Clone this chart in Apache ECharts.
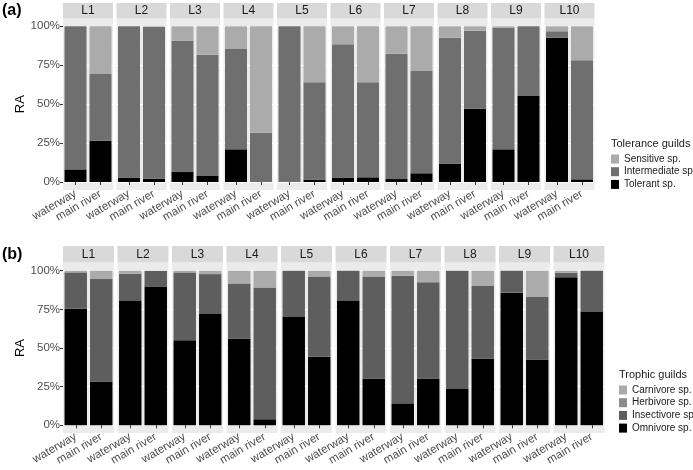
<!DOCTYPE html>
<html><head><meta charset="utf-8">
<script src="https://cdn.jsdelivr.net/npm/echarts@6/dist/echarts.min.js"></script>
<style>html,body{margin:0;padding:0;background:#fff}#c{width:693px;height:470px}</style>
</head><body><div id="c"></div>
<script>
// ---- data ----
const sites = ['L1','L2','L3','L4','L5','L6','L7','L8','L9','L10'];
const habitats = ['waterway','main river'];
const yTickStep = 25;
// Panel (a): tolerance guilds, [waterway, main river] per site (%)
const tolerant     = [[8.1,26.5],[2.8,2.1],[6.4,3.9],[21,0],[0.3,1.5],[2.8,3],[1.9,5.6],[11.8,47.1],[21,55.5],[92.7,1.7]];
const intermediate = [[91.9,42.9],[97.2,97.5],[84.2,77.9],[64.7,31.7],[99.7,62.5],[85.6,61],[80.5,65.7],[80.9,50.1],[78,44.5],[4.1,76.5]];
const sensitive    = [[0,30.6],[0,0.4],[9.4,18.2],[14.3,68.3],[0,36],[11.6,36],[17.6,28.7],[7.3,2.8],[1,0],[3.2,21.8]];
// Panel (b): trophic guilds, [waterway, main river] per site (%)
const omnivore    = [[75.4,28.4],[80.4,89.7],[55,72],[56.2,3.9],[70,44.4],[80.4,30.2],[14.2,30.2],[23.5,43.1],[85.8,42.5],[95.7,73.3]];
const insectivore = [[23.5,66.2],[17.6,10.1],[43.9,25.8],[35.6,85.3],[30,51.9],[19.6,66.1],[82.6,62.3],[76.5,47],[14.2,40.5],[3,26.7]];
const herbivore   = [[0,0],[0,0],[0,0],[0,0],[0,0],[0,0],[0,0],[0,0],[0,0],[0,0]];
const carnivore   = [[1.1,5.4],[2,0.2],[1.1,2.2],[8.2,10.8],[0,3.7],[0,3.7],[3.2,7.5],[0,9.9],[0,17],[1.3,0]];

// ---- layout / style ----
const panels = [
  { tag:'(a)', tagY:11, x0:63, period:53.5, w:50, stripTop:3, panelTop:18.5, panelBottom:190, y100:26.3, y0:182,
    legendTitle:'Tolerance guilds', legTitleX:611, legTitleY:145, legLeft:611, legTop:154,
    series:[['Tolerant sp.',tolerant,'#000000'],['Intermediate sp.',intermediate,'#6f6f6f'],['Sensitive sp.',sensitive,'#ababab']],
    legendOrder:['Sensitive sp.','Intermediate sp.','Tolerant sp.'] },
  { tag:'(b)', tagY:255, x0:63, period:54.5, w:51, stripTop:246, panelTop:262.5, panelBottom:433, y100:270.7, y0:425.3,
    legendTitle:'Trophic guilds', legTitleX:619, legTitleY:376, legLeft:619, legTop:385,
    series:[['Omnivore sp.',omnivore,'#000000'],['Insectivore sp.',insectivore,'#5e5e5e'],['Herbivore sp.',herbivore,'#8c8c8c'],['Carnivore sp.',carnivore,'#ababab']],
    legendOrder:['Carnivore sp.','Herbivore sp.','Insectivore sp.','Omnivore sp.'] }
];
const FONT = 'Liberation Sans, Arial, sans-serif';

const grids=[], xAxes=[], yAxes=[], series=[], graphics=[], legends=[];
panels.forEach((p, pi) => {
  graphics.push({type:'text', left:2, top:p.tagY-8, z:5, style:{text:p.tag, font:'bold 16px '+FONT, fill:'#000'}});
  graphics.push({type:'text', left:p.legTitleX, top:p.legTitleY-7, z:5, style:{text:p.legendTitle, font:'11px '+FONT, fill:'#1a1a1a'}});
  legends.push({orient:'vertical', left:p.legLeft, top:p.legTop, padding:0, itemWidth:8, itemHeight:9, itemGap:2.7,
    selectedMode:false, icon:'rect', data:p.legendOrder,
    textStyle:{fontSize:10, fontFamily:FONT, color:'#1a1a1a', lineHeight:10}});
  sites.forEach((site, i) => {
    const idx = grids.length;
    const left = p.x0 + i*p.period;
    graphics.push({type:'rect', z:-1, shape:{x:left, y:p.panelTop, width:p.w, height:p.panelBottom-p.panelTop}, style:{fill:'#ebebeb'}});
    graphics.push({type:'rect', z:-1, shape:{x:left, y:p.stripTop, width:p.w, height:p.panelTop-p.stripTop}, style:{fill:'#d9d9d9'}});
    graphics.push({type:'text', z:5, x:left+p.w/2, y:(p.stripTop+p.panelTop)/2, style:{text:site, font:'12px '+FONT, fill:'#1a1a1a', align:'center', verticalAlign:'middle'}});
    grids.push({left:left, width:p.w, top:p.y100, height:p.y0-p.y100, containLabel:false});
    xAxes.push({type:'category', gridIndex:idx, data:habitats, offset:p.panelBottom-p.y0,
      axisLine:{show:false}, axisTick:{show:true, alignWithLabel:true, length:3, lineStyle:{color:'#333'}},
      axisLabel:{interval:0, rotate:30, margin:3, fontSize:11.5, fontFamily:FONT, color:'#4d4d4d', hideOverlap:false},
      splitLine:{show:false}});
    yAxes.push({type:'value', gridIndex:idx, min:0, max:100, interval:yTickStep,
      name: i===0 ? 'RA' : '', nameLocation:'middle', nameGap:33, nameRotate:90,
      nameTextStyle:{fontSize:13, fontFamily:FONT, color:'#000'},
      axisLine:{show:false},
      axisTick:{show:i===0, length:3, lineStyle:{color:'#333'}},
      axisLabel:{show:i===0, margin:3, fontSize:11.5, fontFamily:FONT, color:'#4d4d4d', formatter:'{value}%'},
      splitLine:{show:true, lineStyle:{color:'#ffffff', width:1}},
      minorTick:{show:false, splitNumber:2},
      minorSplitLine:{show:true, lineStyle:{color:'#f6f6f6', width:0.5}}});
    p.series.forEach(([name, arr, color]) => {
      series.push({type:'bar', name:name, xAxisIndex:idx, yAxisIndex:idx, stack:'s'+idx,
        data:arr[i], barWidth:'88%', itemStyle:{color:color}, silent:true});
    });
  });
});

const chart = echarts.init(document.getElementById('c'), null, {renderer:'canvas'});
chart.setOption({
  animation:false, backgroundColor:'#ffffff',
  grid:grids, xAxis:xAxes, yAxis:yAxes, series:series, legend:legends,
  graphic:{elements:graphics}
});
</script></body></html>
